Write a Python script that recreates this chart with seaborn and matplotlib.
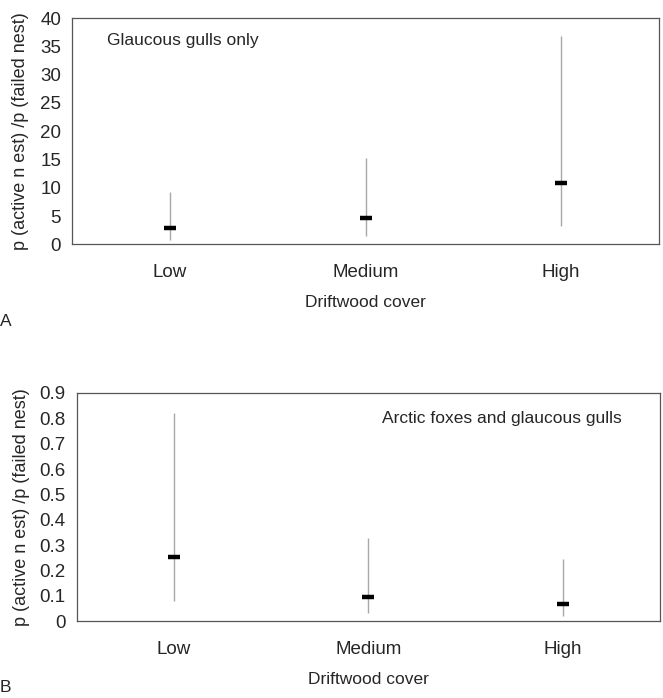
import numpy as np
import pandas as pd
import matplotlib.pyplot as plt
import seaborn as sns

cover = ["Low", "Medium", "High"]

# panel A: glaucous gulls only
gull_ratio = [2.9, 4.7, 10.8]
gull_lo = [0.8, 1.5, 3.2]
gull_hi = [9.2, 15.2, 36.8]

# panel B: arctic foxes and glaucous gulls
fox_ratio = [0.252, 0.097, 0.067]
fox_lo = [0.078, 0.032, 0.02]
fox_hi = [0.82, 0.328, 0.245]

sns.set_style("white")
plt.rcParams["font.family"] = ["Liberation Sans", "DejaVu Sans"]
plt.rcParams["font.size"] = 12.5

fig = plt.figure(figsize=(6.63, 6.98), dpi=100)
axA = fig.add_axes([0.109, 0.650, 0.885, 0.324])
axB = fig.add_axes([0.116, 0.110, 0.879, 0.327])

panels = [
    (axA, gull_ratio, gull_lo, gull_hi, (0, 40), np.arange(0, 41, 5), "{:.0f}",
     "Glaucous gulls only", (0.06, 0.90), "left"),
    (axB, fox_ratio, fox_lo, fox_hi, (0, 0.9), np.round(np.arange(0, 0.91, 0.1), 1), "{:g}",
     "Arctic foxes and glaucous gulls", (0.935, 0.89), "right"),
]

for ax, ratio, lo, hi, ylim, yticks, fmt, note, npos, ha in panels:
    df = pd.DataFrame({"cover": cover, "ratio": ratio, "lo": lo, "hi": hi})
    xs = np.arange(len(cover))
    ax.vlines(xs, df["lo"], df["hi"], color="#a8a8a8", lw=1)
    sns.scatterplot(data=df, x="cover", y="ratio", marker="_", s=75,
                    color="black", linewidth=3.2, ax=ax, zorder=3, legend=False)
    ax.set_xlim(-0.5, 2.5)
    ax.set_ylim(*ylim)
    ax.set_yticks(yticks)
    ax.set_yticklabels([fmt.format(v) for v in yticks], fontsize=13.5)
    ax.set_xticks(xs)
    ax.set_xticklabels(cover, fontsize=13.5)
    ax.set_xticks([-0.5, 0.5, 1.5, 2.5], minor=True)
    ax.tick_params(axis="x", which="major", length=0, pad=14)
    ax.tick_params(axis="x", which="minor", length=7, direction="inout", color="#555555", width=0.8)
    ax.tick_params(axis="y", length=5, direction="out", color="#999999", width=0.8, pad=3)
    for sp in ax.spines.values():
        sp.set_color("#555555")
        sp.set_linewidth(0.9)
    ax.set_xlabel("Driftwood cover", labelpad=10)
    ax.set_ylabel("p (active n est) /p (failed nest)", fontsize=13)
    ax.text(npos[0], npos[1], note, transform=ax.transAxes, ha=ha, va="center")

axA.yaxis.set_label_coords(-0.073, 0.5)
axB.yaxis.set_label_coords(-0.081, 0.5)

fig.text(0.0, 1 - 322 / 698, "A", ha="left", va="center", fontsize=12.5)
fig.text(0.0, 1 - 688 / 698, "B", ha="left", va="center", fontsize=12.5)

plt.savefig("out.png", dpi=100)
